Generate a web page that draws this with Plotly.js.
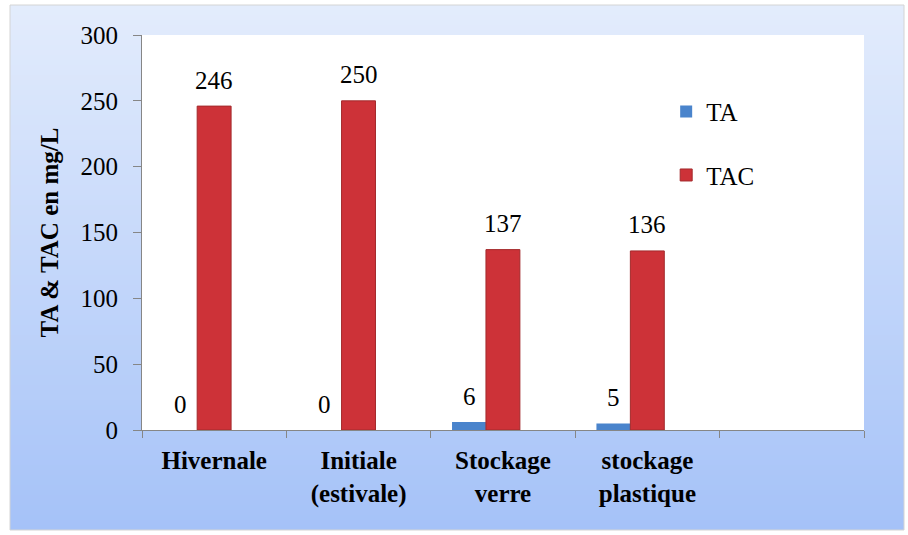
<!DOCTYPE html>
<html>
<head>
<meta charset="utf-8">
<script src="https://cdn.plot.ly/plotly-3.0.1.min.js"></script>
</head>
<body style="margin:0">
<div id="chart"></div>
<script>
// ---- data ----
const categories = ['Hivernale', 'Initiale<br>(estivale)', 'Stockage<br>verre', 'stockage<br>plastique'];
const axisCategories = ['Hivernale', 'Initiale<br>(estivale)', 'Stockage<br>verre', 'stockage<br>plastique', ' '];
const taValues = [0, 0, 6, 5];
const tacValues = [246, 250, 137, 136];
const seriesNames = ['TA', 'TAC'];
const yTickValues = [0, 50, 100, 150, 200, 250, 300];

const serifFamily = 'Liberation Serif';

const traces = [
  {
    type: 'bar', name: seriesNames[0], x: categories, y: taValues,
    offset: -0.353, width: 0.235,
    marker: { color: '#4a84cc', line: { width: 0 } },
    legendgroup: 'a'
  },
  {
    type: 'bar', name: seriesNames[1], x: categories, y: tacValues,
    offset: -0.118, width: 0.235,
    marker: { color: '#cd3238', line: { color: '#a32a2c', width: 1 } },
    legendgroup: 'b'
  }
];

const annotations = [];
[taValues, tacValues].forEach(function (vals, s) {
  vals.forEach(function (v, i) {
    annotations.push({
      x: categories[i], y: v, xref: 'x', yref: 'y',
      text: String(v), showarrow: false,
      xanchor: 'center', yanchor: 'middle',
      xshift: s === 0 ? -34 : 0, yshift: 26,
      font: { family: serifFamily, size: 25, color: '#000000' }
    });
  });
});

// background frame: vertical gradient made of thin stripes (pixel -> paper coords)
const plotL = 142, plotR = 864, plotT = 35, plotB = 430;
function px2x(px) { return (px - plotL) / (plotR - plotL); }
function px2y(py) { return (plotB - py) / (plotB - plotT); }
const frameL = 10, frameR = 904, frameT = 5, frameB = 530;
const gradTop = [227, 236, 252], gradBottom = [165, 194, 248];
const bgShapes = [];
const nStripes = 105;
for (let k = 0; k < nStripes; k++) {
  const t = k / (nStripes - 1);
  const c = gradTop.map(function (a, j) { return Math.round(a + (gradBottom[j] - a) * t); });
  const y0 = frameT + (frameB - frameT) * k / nStripes;
  const y1 = frameT + (frameB - frameT) * (k + 1) / nStripes + 0.6;
  bgShapes.push({
    type: 'rect', xref: 'paper', yref: 'paper', layer: 'below',
    x0: px2x(frameL), x1: px2x(frameR), y0: px2y(Math.min(y1, frameB)), y1: px2y(y0),
    fillcolor: 'rgb(' + c.join(',') + ')', line: { width: 0 }
  });
}
bgShapes.push({
  type: 'rect', xref: 'paper', yref: 'paper', layer: 'below',
  x0: px2x(frameL), x1: px2x(frameR), y0: px2y(frameB), y1: px2y(frameT),
  fillcolor: 'rgba(0,0,0,0)', line: { color: '#d4d4d4', width: 1 }
});
bgShapes.push({
  type: 'rect', xref: 'paper', yref: 'paper', layer: 'below',
  x0: 0, x1: 1, y0: 0, y1: 1, fillcolor: '#ffffff', line: { width: 0 }
});

const layout = {
  width: 908, height: 535,
  margin: { l: plotL, r: 908 - plotR, t: plotT, b: 535 - plotB },
  paper_bgcolor: '#ffffff',
  plot_bgcolor: 'rgba(0,0,0,0)',
  font: { family: serifFamily, size: 25, color: '#000000' },
  barmode: 'group',
  legend: {
    x: 0.726, y: 0.864, xanchor: 'left', yanchor: 'top',
    bgcolor: 'rgba(0,0,0,0)',
    font: { family: serifFamily, size: 25, color: '#000000' },
    traceorder: 'grouped', tracegroupgap: 28
  },
  xaxis: {
    type: 'category', categoryorder: 'array', categoryarray: axisCategories,
    range: [-0.5, 4.5],
    tickson: 'boundaries', ticks: 'outside', ticklen: 7, tickcolor: '#868686',
    showline: true, linecolor: '#868686',
    showgrid: false, zeroline: false,
    ticklabelstandoff: 8,
    tickfont: { family: serifFamily, size: 25, color: '#000000', weight: 'bold' }
  },
  yaxis: {
    range: [0, 300], tickvals: yTickValues,
    ticks: 'outside', ticklen: 8, tickcolor: '#868686',
    showline: true, linecolor: '#868686',
    showgrid: false, zeroline: false,
    ticklabelstandoff: 10,
    tickfont: { family: serifFamily, size: 25, color: '#000000' },
    automargin: true,
    title: { text: 'TA &amp; TAC en mg/L', standoff: 14,
      font: { family: serifFamily, size: 25, color: '#000000', weight: 'bold' } }
  },
  shapes: bgShapes,
  annotations: annotations
};

const config = { displayModeBar: false };
Plotly.newPlot('chart', traces, layout, config);

// redraw once the serif faces are surely available
if (document.fonts && document.fonts.load) {
  Promise.all([
    document.fonts.load('25px "' + serifFamily + '"'),
    document.fonts.load('bold 25px "' + serifFamily + '"')
  ]).then(function () {
    Plotly.newPlot('chart', traces, layout, config);
  }).catch(function () {});
}
</script>
</body>
</html>
